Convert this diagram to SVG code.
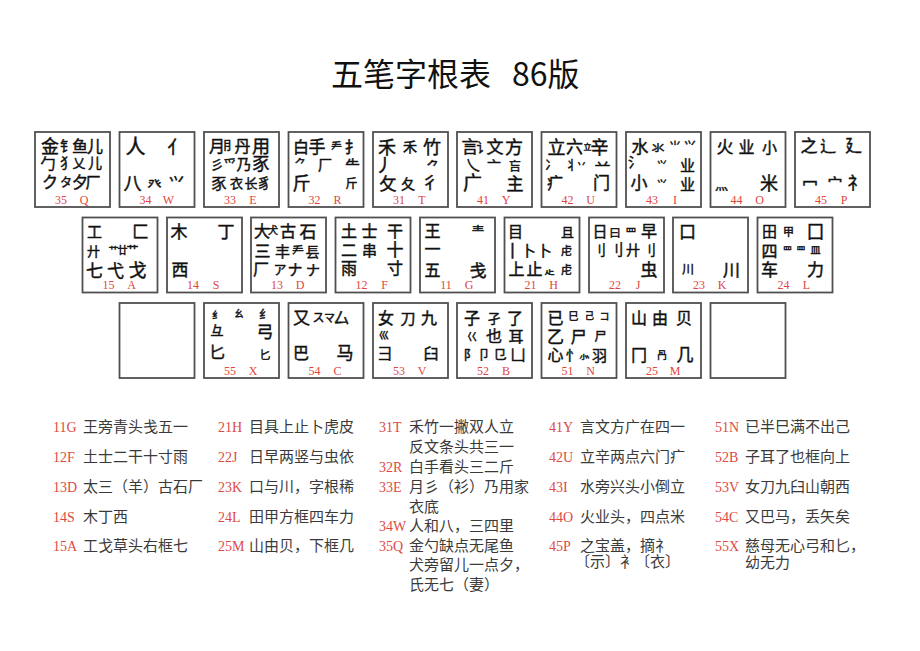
<svg xmlns="http://www.w3.org/2000/svg" width="920" height="651" viewBox="0 0 920 651">
<style>
.k{fill:#fff;stroke:#505050;stroke-width:1.8}
.r text{font-family:"Noto Sans CJK SC","Noto Sans CJK JP",sans-serif;fill:#111;stroke:#111;stroke-width:0.45px;text-anchor:middle}
.r text.n{font-family:"Liberation Serif",serif;font-size:12px;fill:#e0463e;stroke:none;text-anchor:middle}
.lc{font-family:"Liberation Serif",serif;font-size:14px;fill:#dd4a44}
.lt{font-family:"Noto Sans CJK SC",sans-serif;font-size:15px;fill:#3a3a3a}
.title{font-family:"Noto Sans CJK SC",sans-serif;font-size:32px;fill:#111}
</style>
<rect width="920" height="651" fill="#fff"/>
<g id="title">
<text class="title" x="331" y="86">五笔字根表</text>
<text class="title" x="512" y="86">86版</text>
</g>

<g id="connectors"></g>

<!-- Row 1 -->
<g id="key-Q" class="r" transform="translate(35,132)">
<rect class="k" width="75" height="75"/>
<text x="15" y="20.7" font-size="18">金</text><text x="32" y="19.2" font-size="14">钅</text><text x="45" y="19.9" font-size="16">鱼</text><text x="60" y="19.9" font-size="16">儿</text>
<text x="13" y="36.6" font-size="15">勹</text><text x="32" y="36.2" font-size="14">犭</text><text x="44" y="35.8" font-size="13">乂</text><text x="60" y="36.2" font-size="14">儿</text>
<text x="15" y="55.9" font-size="16">ク</text><text x="31" y="55.4" font-size="12">タ</text><text x="45" y="55.9" font-size="16">夕</text><text x="58" y="55.6" font-size="15">厂</text>
<text class="n" x="26" y="71.5">35</text><text class="n" x="49" y="71.5">Q</text>
</g>
<g id="key-W" class="r" transform="translate(119.5,132)">
<rect class="k" width="75" height="75"/>
<text x="16" y="22.4" font-size="20">人</text><text x="57" y="21.7" font-size="18">亻</text>
<text x="13" y="57.7" font-size="18">八</text><text x="35" y="57.2" font-size="14">癶</text><text x="57" y="56.9" font-size="16">⺍</text>
<text class="n" x="26" y="71.5">34</text><text class="n" x="49" y="71.5">W</text>
</g>
<g id="key-E" class="r" transform="translate(204,132)">
<rect class="k" width="75" height="75"/>
<text x="13" y="19.9" font-size="16">月</text><text x="25" y="18.4" font-size="12">⺝</text><text x="38.5" y="19.9" font-size="16">丹</text><text x="57" y="20.7" font-size="18">用</text>
<text x="13" y="36.8" font-size="13">彡</text><text x="26" y="36.8" font-size="13">爫</text><text x="40" y="37.6" font-size="15">乃</text><text x="57" y="38.3" font-size="17">豕</text>
<text x="15" y="56.6" font-size="15">豕</text><text x="32.5" y="55.8" font-size="13">衣</text><text x="47" y="55.8" font-size="13">长</text><text x="60" y="56.2" font-size="14">豸</text>
<text class="n" x="26" y="71.5">33</text><text class="n" x="49" y="71.5">E</text>
</g>
<g id="key-R" class="r" transform="translate(288.5,132)">
<rect class="k" width="75" height="75"/>
<text x="12.5" y="20.9" font-size="16">白</text><text x="28.5" y="21.3" font-size="17">手</text><text x="48" y="19.1" font-size="11">龵</text><text x="64" y="20.9" font-size="16">扌</text>
<text x="12" y="37.4" font-size="12">⺈</text><text x="36.5" y="38.2" font-size="14">厂</text><text x="64" y="38.6" font-size="15">⺧</text>
<text x="13" y="57.7" font-size="18">斤</text><text x="63" y="56.4" font-size="12">斤</text>
<text class="n" x="26" y="71.5">32</text><text class="n" x="49" y="71.5">R</text>
</g>
<g id="key-T" class="r" transform="translate(373,132)">
<rect class="k" width="75" height="75"/>
<text x="14" y="21.7" font-size="18">禾</text><text x="37" y="20.2" font-size="14">禾</text><text x="59" y="21.7" font-size="18">竹</text>
<text x="11" y="39.7" font-size="18">丿</text><text x="60" y="38.8" font-size="13">⺈</text>
<text x="15" y="58.3" font-size="17">攵</text><text x="35" y="57.2" font-size="14">夂</text><text x="57" y="57.3" font-size="17">彳</text>
<text class="n" x="26" y="71.5">31</text><text class="n" x="49" y="71.5">T</text>
</g>
<g id="key-Y" class="r" transform="translate(457,132)">
<rect class="k" width="75" height="75"/>
<text x="13" y="21.3" font-size="17">言</text><text x="26" y="19.8" font-size="13">讠</text><text x="38" y="21.3" font-size="17">文</text><text x="57" y="21.7" font-size="18">方</text>
<text x="16" y="37.6" font-size="15">乀</text><text x="37" y="39.2" font-size="14">亠</text><text x="58" y="39.4" font-size="12">吂</text>
<text x="15.5" y="58" font-size="19">广</text><text x="58" y="58.3" font-size="17">主</text>
<text class="n" x="26" y="71.5">41</text><text class="n" x="49" y="71.5">Y</text>
</g>
<g id="key-U" class="r" transform="translate(541.5,132)">
<rect class="k" width="75" height="75"/>
<text x="15" y="21.7" font-size="18">立</text><text x="33" y="21.3" font-size="17">六</text><text x="46" y="18" font-size="8">立</text><text x="58" y="21.7" font-size="18">辛</text>
<text x="10" y="36.8" font-size="13">冫</text><text x="30" y="36.8" font-size="13">丬</text><text x="40" y="35.7" font-size="10">丷</text><text x="61" y="38.9" font-size="16">䒑</text>
<text x="13.5" y="56.9" font-size="16">疒</text><text x="60" y="57.3" font-size="17">门</text>
<text class="n" x="26" y="71.5">42</text><text class="n" x="49" y="71.5">U</text>
</g>
<g id="key-I" class="r" transform="translate(626,132)">
<rect class="k" width="75" height="75"/>
<text x="14" y="21.3" font-size="17">水</text><text x="32" y="19.8" font-size="13">氺</text><text x="49" y="19.4" font-size="12">⺌</text><text x="64" y="19.4" font-size="12">⺍</text>
<text x="9" y="35.2" font-size="14">氵</text><text x="36" y="36.7" font-size="10">⺍</text><text x="61.5" y="38.6" font-size="15">业</text>
<text x="13" y="57.3" font-size="17">小</text><text x="36" y="55.7" font-size="10">⺍</text><text x="61.5" y="57.6" font-size="15">业</text>
<text class="n" x="26" y="71.5">43</text><text class="n" x="49" y="71.5">I</text>
</g>
<g id="key-O" class="r" transform="translate(710.5,132)">
<rect class="k" width="75" height="75"/>
<text x="14.5" y="21.3" font-size="17">火</text><text x="36" y="20.9" font-size="16">业</text><text x="59" y="20.6" font-size="15">小</text>
<text x="11" y="56.8" font-size="13">灬</text><text x="58.5" y="57.7" font-size="18">米</text>
<text class="n" x="26" y="71.5">44</text><text class="n" x="49" y="71.5">O</text>
</g>
<g id="key-P" class="r" transform="translate(795,132)">
<rect class="k" width="75" height="75"/>
<text x="14" y="20.3" font-size="17">之</text><text x="33" y="19.9" font-size="16">辶</text><text x="58.5" y="20.3" font-size="17">廴</text>
<text x="15" y="57.9" font-size="16">冖</text><text x="40" y="56.6" font-size="15">宀</text><text x="61" y="57.3" font-size="17">礻</text>
<text class="n" x="26" y="71.5">45</text><text class="n" x="49" y="71.5">P</text>
</g>

<!-- Row 2 -->
<g id="key-A" class="r" transform="translate(82.5,217.5)">
<rect class="k" width="75" height="75"/>
<text x="12" y="19.6" font-size="15">工</text><text x="58" y="20.3" font-size="17">匚</text>
<text x="11" y="38.8" font-size="13">廾</text><text x="31" y="36.7" font-size="10">艹</text><text x="40" y="36.7" font-size="10">廿</text><text x="50" y="37.4" font-size="12">艹</text>
<text x="12" y="59.3" font-size="17">七</text><text x="33" y="59.3" font-size="17">弋</text><text x="55" y="59.7" font-size="18">戈</text>
<text class="n" x="26" y="71.5">15</text><text class="n" x="49" y="71.5">A</text>
</g>
<g id="key-S" class="r" transform="translate(167,217.5)">
<rect class="k" width="75" height="75"/>
<text x="12" y="20.3" font-size="17">木</text><text x="59" y="20.3" font-size="17">丁</text>
<text x="13" y="58.3" font-size="17">西</text>
<text class="n" x="26" y="71.5">14</text><text class="n" x="49" y="71.5">S</text>
</g>
<g id="key-D" class="r" transform="translate(251,217.5)">
<rect class="k" width="75" height="75"/>
<text x="11" y="19.9" font-size="16">大</text><text x="22" y="16.7" font-size="10">犬</text><text x="37" y="19.9" font-size="16">古</text><text x="57" y="20.3" font-size="17">石</text>
<text x="11.5" y="39.9" font-size="16">三</text><text x="31.5" y="39.6" font-size="15">丰</text><text x="47" y="38.4" font-size="12">龵</text><text x="61.5" y="39.2" font-size="14">镸</text>
<text x="10" y="57.9" font-size="16">厂</text><text x="29" y="56.8" font-size="13">ア</text><text x="44" y="57.6" font-size="15">ナ</text><text x="62" y="57.2" font-size="14">ナ</text>
<text class="n" x="26" y="71.5">13</text><text class="n" x="49" y="71.5">D</text>
</g>
<g id="key-F" class="r" transform="translate(335.5,217.5)">
<rect class="k" width="75" height="75"/>
<text x="13.5" y="19.9" font-size="16">土</text><text x="34" y="19.9" font-size="16">士</text><text x="59.5" y="19.9" font-size="16">干</text>
<text x="13.5" y="38.4" font-size="16">二</text><text x="34" y="38.1" font-size="15">串</text><text x="59.5" y="38.8" font-size="17">十</text>
<text x="13.5" y="56.9" font-size="16">雨</text><text x="59.5" y="56.9" font-size="16">寸</text>
<text class="n" x="26" y="71.5">12</text><text class="n" x="49" y="71.5">F</text>
</g>
<g id="key-G" class="r" transform="translate(420,217.5)">
<rect class="k" width="75" height="75"/>
<text x="12.5" y="19.9" font-size="16">王</text><text x="58" y="18.8" font-size="13">龶</text>
<text x="12.5" y="37.9" font-size="16">一</text>
<text x="12.5" y="58.9" font-size="16">五</text><text x="58" y="59.3" font-size="17">戋</text>
<text class="n" x="26" y="71.5">11</text><text class="n" x="49" y="71.5">G</text>
</g>
<g id="key-H" class="r" transform="translate(504.5,217.5)">
<rect class="k" width="75" height="75"/>
<text x="11" y="19.6" font-size="15">目</text><text x="63" y="19.8" font-size="13">且</text>
<text x="8" y="39.3" font-size="17">丨</text><text x="24" y="38.6" font-size="15">卜</text><text x="40" y="38.6" font-size="15">卜</text><text x="62" y="37.1" font-size="11">虍</text>
<text x="12" y="57.9" font-size="16">上</text><text x="30" y="57.9" font-size="16">止</text><text x="45" y="56.7" font-size="10">龰</text><text x="62" y="56.1" font-size="11">虍</text>
<text class="n" x="26" y="71.5">21</text><text class="n" x="49" y="71.5">H</text>
</g>
<g id="key-J" class="r" transform="translate(589,217.5)">
<rect class="k" width="75" height="75"/>
<text x="11" y="19.6" font-size="15">日</text><text x="26" y="19.1" font-size="11">曰</text><text x="42" y="19.1" font-size="11">罒</text><text x="60" y="19.9" font-size="16">早</text>
<text x="10" y="37.2" font-size="14">刂</text><text x="27" y="37.6" font-size="15">刂</text><text x="44" y="37.2" font-size="14">廾</text><text x="60" y="37.2" font-size="14">刂</text>
<text x="60" y="58.3" font-size="17">虫</text>
<text class="n" x="26" y="71.5">22</text><text class="n" x="49" y="71.5">J</text>
</g>
<g id="key-K" class="r" transform="translate(673,217.5)">
<rect class="k" width="75" height="75"/>
<text x="14.5" y="20.3" font-size="17">口</text>
<text x="15" y="56.4" font-size="12">川</text><text x="58.5" y="58.3" font-size="17">川</text>
<text class="n" x="26" y="71.5">23</text><text class="n" x="49" y="71.5">K</text>
</g>
<g id="key-L" class="r" transform="translate(757.5,217.5)">
<rect class="k" width="75" height="75"/>
<text x="12" y="19.6" font-size="15">田</text><text x="31" y="18.1" font-size="11">甲</text><text x="58" y="20.3" font-size="17">囗</text>
<text x="12" y="39.9" font-size="16">四</text><text x="30" y="36.3" font-size="9">罒</text><text x="43.5" y="36.3" font-size="9">罒</text><text x="58" y="36.7" font-size="10">皿</text>
<text x="12" y="58.3" font-size="17">车</text><text x="58" y="58.3" font-size="17">力</text>
<text class="n" x="26" y="71.5">24</text><text class="n" x="49" y="71.5">L</text>
</g>

<!-- Row 3 -->
<g id="key-Z" class="r" transform="translate(119.5,303)">
<rect class="k" width="75" height="75"/>
</g>
<g id="key-X" class="r" transform="translate(204,303)">
<rect class="k" width="75" height="75"/>
<text x="13" y="15.7" font-size="10">纟</text><text x="13" y="31.8" font-size="13">彑</text><text x="13" y="54.9" font-size="16">匕</text>
<text x="35" y="14.3" font-size="9">幺</text>
<text x="61" y="16.4" font-size="12">纟</text><text x="61" y="35.3" font-size="17">弓</text><text x="61" y="56.1" font-size="11">匕</text>
<text class="n" x="26" y="71.5">55</text><text class="n" x="49" y="71.5">X</text>
</g>
<g id="key-C" class="r" transform="translate(288.5,303)">
<rect class="k" width="75" height="75"/>
<text x="13" y="21.3" font-size="17">又</text><text x="30" y="19.4" font-size="12">ス</text><text x="41" y="19.1" font-size="11">マ</text><text x="53" y="20.9" font-size="16">厶</text>
<text x="12.5" y="55.9" font-size="16">巴</text><text x="56.5" y="56.3" font-size="17">马</text>
<text class="n" x="26" y="71.5">54</text><text class="n" x="49" y="71.5">C</text>
</g>
<g id="key-V" class="r" transform="translate(373,303)">
<rect class="k" width="75" height="75"/>
<text x="13" y="20.9" font-size="16">女</text><text x="35" y="20.6" font-size="15">刀</text><text x="56" y="20.9" font-size="16">九</text>
<text x="11" y="35.7" font-size="10">巛</text>
<text x="12" y="55.6" font-size="15">彐</text><text x="58" y="55.6" font-size="15">臼</text>
<text class="n" x="26" y="71.5">53</text><text class="n" x="49" y="71.5">V</text>
</g>
<g id="key-B" class="r" transform="translate(457,303)">
<rect class="k" width="75" height="75"/>
<text x="15" y="20.9" font-size="16">子</text><text x="37" y="19.8" font-size="13">孑</text><text x="58" y="20.9" font-size="16">了</text>
<text x="15" y="37.6" font-size="11">巜</text><text x="37" y="39.4" font-size="16">也</text><text x="59" y="39.1" font-size="15">耳</text>
<text x="13" y="55.8" font-size="13">阝</text><text x="27" y="55.8" font-size="13">卩</text><text x="43" y="55.8" font-size="13">㔾</text><text x="61" y="56.6" font-size="15">凵</text>
<text class="n" x="26" y="71.5">52</text><text class="n" x="49" y="71.5">B</text>
</g>
<g id="key-N" class="r" transform="translate(541.5,303)">
<rect class="k" width="75" height="75"/>
<text x="14" y="20.9" font-size="16">已</text><text x="32" y="16.7" font-size="10">巳</text><text x="48" y="16.3" font-size="9">己</text><text x="63" y="16.7" font-size="10">コ</text>
<text x="14" y="40.3" font-size="17">乙</text><text x="37" y="39.9" font-size="16">尸</text><text x="59" y="38.4" font-size="12">尸</text>
<text x="14" y="57.9" font-size="16">心</text><text x="31" y="57.2" font-size="14">忄</text><text x="43" y="56.1" font-size="11">⺗</text><text x="58" y="57.6" font-size="15">羽</text>
<text class="n" x="26" y="71.5">51</text><text class="n" x="49" y="71.5">N</text>
</g>
<g id="key-M" class="r" transform="translate(626,303)">
<rect class="k" width="75" height="75"/>
<text x="13" y="20.9" font-size="16">山</text><text x="34" y="20.9" font-size="16">由</text><text x="58" y="20.9" font-size="16">贝</text>
<text x="13" y="57.9" font-size="16">冂</text><text x="36" y="55.7" font-size="10">冎</text><text x="59" y="58.3" font-size="17">几</text>
<text class="n" x="26" y="71.5">25</text><text class="n" x="49" y="71.5">M</text>
</g>
<g id="key-blank" class="r" transform="translate(710.5,303)">
<rect class="k" width="75" height="75"/>
</g>

<!-- Legend -->
<g id="legend">
<text class="lc" x="53" y="432">11G</text><text class="lt" x="83" y="432">王旁青头戋五一</text>
<text class="lc" x="53" y="462">12F</text><text class="lt" x="83" y="462">土士二干十寸雨</text>
<text class="lc" x="53" y="491.5">13D</text><text class="lt" x="83" y="491.5">太三（羊）古石厂</text>
<text class="lc" x="53" y="521.5">14S</text><text class="lt" x="83" y="521.5">木丁西</text>
<text class="lc" x="53" y="551">15A</text><text class="lt" x="83" y="551">工戈草头右框七</text>

<text class="lc" x="218" y="432">21H</text><text class="lt" x="249" y="432">目具上止卜虎皮</text>
<text class="lc" x="218" y="462">22J</text><text class="lt" x="249" y="462">日早两竖与虫依</text>
<text class="lc" x="218" y="491.5">23K</text><text class="lt" x="249" y="491.5">口与川，字根稀</text>
<text class="lc" x="218" y="521.5">24L</text><text class="lt" x="249" y="521.5">田甲方框四车力</text>
<text class="lc" x="218" y="551">25M</text><text class="lt" x="249" y="551">山由贝，下框几</text>

<text class="lc" x="379" y="432">31T</text><text class="lt" x="409" y="432">禾竹一撇双人立</text>
<text class="lt" x="409" y="452">反文条头共三一</text>
<text class="lc" x="379" y="472">32R</text><text class="lt" x="409" y="472">白手看头三二斤</text>
<text class="lc" x="379" y="492">33E</text><text class="lt" x="409" y="492">月彡（衫）乃用家</text>
<text class="lt" x="409" y="511.5">衣底</text>
<text class="lc" x="379" y="531">34W</text><text class="lt" x="409" y="531">人和八，三四里</text>
<text class="lc" x="379" y="551">35Q</text><text class="lt" x="409" y="551">金勺缺点无尾鱼</text>
<text class="lt" x="409" y="570">犬旁留儿一点夕，</text>
<text class="lt" x="409" y="590">氏无七（妻）</text>

<text class="lc" x="549" y="432">41Y</text><text class="lt" x="580" y="432">言文方广在四一</text>
<text class="lc" x="549" y="462">42U</text><text class="lt" x="580" y="462">立辛两点六门疒</text>
<text class="lc" x="549" y="491.5">43I</text><text class="lt" x="580" y="491.5">水旁兴头小倒立</text>
<text class="lc" x="549" y="521.5">44O</text><text class="lt" x="580" y="521.5">火业头，四点米</text>
<text class="lc" x="549" y="551">45P</text><text class="lt" x="580" y="551">之宝盖，摘礻</text>
<text class="lt" x="575" y="567">〔示〕衤〔衣〕</text>

<text class="lc" x="715" y="432">51N</text><text class="lt" x="745" y="432">已半巳满不出己</text>
<text class="lc" x="715" y="462">52B</text><text class="lt" x="745" y="462">子耳了也框向上</text>
<text class="lc" x="715" y="491.5">53V</text><text class="lt" x="745" y="491.5">女刀九臼山朝西</text>
<text class="lc" x="715" y="521.5">54C</text><text class="lt" x="745" y="521.5">又巴马，丢矢矣</text>
<text class="lc" x="715" y="551">55X</text><text class="lt" x="745" y="551">慈母无心弓和匕，</text>
<text class="lt" x="745" y="568">幼无力</text>
</g>
</svg>
